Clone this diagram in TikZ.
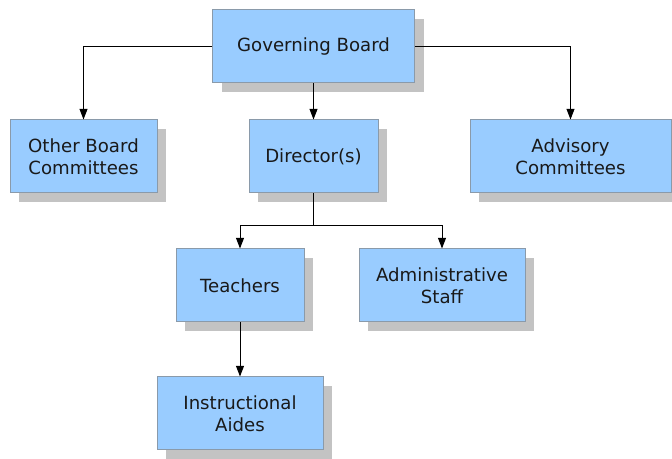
\documentclass[tikz,border=0pt]{standalone}
\usepackage{fontspec}
\setmainfont{DejaVu Sans}
\usetikzlibrary{arrows.meta,shadows}
\definecolor{boxfill}{HTML}{99CCFF}
\definecolor{boxline}{HTML}{8A9AAA}
\definecolor{shadowgray}{HTML}{C3C3C3}
\tikzset{
  orgbox/.style n args={2}{draw=boxline, line width=0.75pt, fill=boxfill,
    minimum width=#1*0.75pt, minimum height=#2*0.75pt, inner sep=0pt,
    align=center, text=black!90, font=\fontsize{13.6}{16.3}\selectfont,
    general shadow={fill=shadowgray, shadow xshift=6.75pt, shadow yshift=-6.75pt}},
  conn/.style={draw=black, line width=0.75pt, -{Triangle[length=8pt,width=6pt]}},
  plain/.style={draw=black, line width=0.75pt}
}
\begin{document}
\begin{tikzpicture}[x=0.75pt,y=-0.75pt]
\useasboundingbox (0,0) rectangle (672,459);
\node[orgbox={202}{73}] (gb) at (313.5,46.5) {Governing Board};
\node[orgbox={147}{73}] (obc) at (83.5,156.5) {Other Board\\Committees};
\node[orgbox={129}{73}] (dir) at (313.5,156.5) {Director(s)};
\node[orgbox={201}{73}] (adv) at (570.5,156.5) {Advisory\\Committees};
\node[orgbox={128}{73}] (tea) at (240,285.5) {Teachers};
\node[orgbox={166}{73}] (adm) at (442,285.5) {Administrative\\Staff};
\node[orgbox={166}{73}] (ia) at (240,413.5) {Instructional\\Aides};
\coordinate (j) at (313.5,226);
\draw[conn] (gb.west) -| (obc.north);
\draw[conn] (gb.east) -| (adv.north);
\draw[conn] (gb.south) -- (dir.north);
\draw[plain] (dir.south) -- (j);
\draw[conn] (j) -| (tea.north);
\draw[conn] (j) -| (adm.north);
\draw[conn] (tea.south) -- (ia.north);
\end{tikzpicture}
\end{document}
